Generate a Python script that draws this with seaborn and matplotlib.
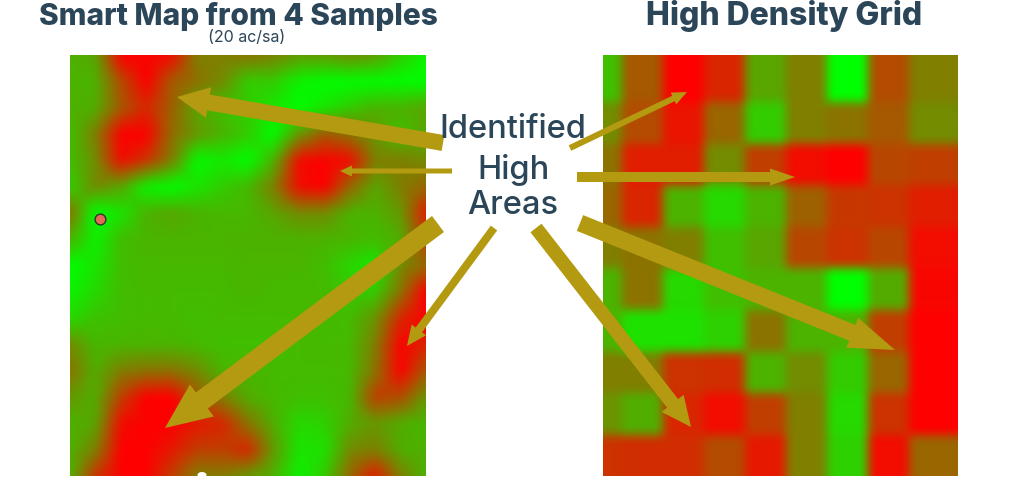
"""Smart map from four samples next to a high density grid, with the high areas marked."""

import numpy as np
import pandas as pd
import matplotlib
matplotlib.use('Agg')
import matplotlib.pyplot as plt
from matplotlib.colors import LinearSegmentedColormap
from matplotlib.patches import FancyArrow, Ellipse
import seaborn as sns

# 0 = green, 1 = red. Values at evenly spaced grid nodes.
SMART_MAP = [
    [.30, .35, 1.0, 1.0, .95, .50, .50, .55, .50, .40, .40, .45, .40, .20, .05],
    [.30, .30, .70, 1.0, .65, .55, .45, .20, .20, .05, .00, .00, .00, .00, .00],
    [.30, .32, .65, .85, .62, .35, .25, .20, .10, .00, .10, .20, .30, .30, .35],
    [.25, .50, 1.0, 1.0, .58, .40, .30, .20, .00, .40, .65, .55, .40, .25, .35],
    [.25, .45, .95, .80, .50, .02, .08, .00, .30, .95, 1.0, .95, .50, .50, .45],
    [.20, .45, .35, .05, .00, .10, .20, .28, .50, .95, 1.0, .60, .35, .50, .60],
    [.55, .00, .10, .30, .35, .30, .28, .28, .35, .45, .45, .30, .30, .40, .90],
    [.30, .05, .26, .29, .29, .29, .29, .30, .30, .30, .30, .29, .26, .32, .75],
    [.00, .10, .26, .28, .28, .28, .28, .29, .29, .29, .26, .16, .08, .45, .60],
    [.05, .15, .26, .27, .27, .27, .27, .29, .27, .27, .27, .22, .20, .55, 1.0],
    [.15, .24, .26, .27, .27, .25, .27, .27, .27, .27, .27, .26, .42, .85, 1.0],
    [.45, .28, .29, .29, .29, .27, .25, .25, .25, .27, .27, .27, .50, 1.0, .85],
    [.55, .32, .50, .55, .55, .45, .29, .29, .27, .27, .27, .27, .55, 1.0, .65],
    [.40, .32, .75, 1.0, 1.0, .65, .50, .32, .27, .25, .25, .28, .75, .70, .40],
    [.30, .35, .95, 1.0, 1.0, .90, .85, .55, .32, .15, .18, .32, .40, .32, .28],
    [.30, .50, 1.0, 1.0, .90, .75, .75, .85, .40, .10, .12, .45, .50, .32, .30],
    [.30, .80, 1.0, 1.0, .75, .50, .50, .40, .30, .05, .20, .60, .90, .50, .30],
]

# The first row and the last column are partly cropped in the source, see the limits below.
DENSE_GRID = [
    [.25, .65, 1.0, .85, .35, .50, .00, .70, .50, .50],
    [.25, .65, 1.0, .85, .35, .50, .00, .70, .50, .50],
    [.45, .70, .92, .60, .20, .50, .55, .65, .45, .45],
    [.55, .88, .88, .45, .75, .95, 1.0, .72, .75, .75],
    [.60, .85, .30, .15, .30, .62, .78, .80, .88, .88],
    [.50, .55, .50, .25, .35, .72, .80, .72, .95, .95],
    [.30, .55, .15, .25, .30, .30, .00, .33, .97, .97],
    [.30, .12, .12, .18, .55, .30, .30, .75, 1.0, 1.0],
    [.50, .50, .80, .82, .30, .45, .20, .60, 1.0, 1.0],
    [.42, .32, .85, .95, .75, .50, .15, .80, 1.0, 1.0],
    [.80, .82, .82, .70, .90, .50, .18, .95, .60, .60],
]

# tail x, tail y, tip x, tip y, shaft width, head width, head length (pixels)
ARROWS = [
    (443, 143, 177, 97, 16, 31, 32),
    (452, 171, 340, 171, 5, 11, 12),
    (438, 224, 165, 428, 20, 40, 46),
    (494, 228, 407, 346, 8, 18, 20),
    (570, 148, 687, 92, 6, 13, 15),
    (577, 177, 795, 177, 10, 17, 25),
    (580, 223, 895, 350, 17, 32, 46),
    (536, 228, 691, 427, 14, 28, 30),
]

SAMPLE_POINT = (100, 219)

TEXT_COLOR = '#2b4559'
ARROW_COLOR = '#b39a10'
WIDTH, HEIGHT = 1024, 484


def make_blur(radius):
    """Build an agg filter that softens edges, padding so the outer edge stays solid."""
    def blur(image, dpi):
        kernel = np.ones(2 * radius + 1) / (2 * radius + 1)
        pad = radius * 2
        out = np.pad(image, ((pad, pad), (pad, pad), (0, 0)), mode='edge')
        for _ in range(2):
            for axis in (0, 1):
                out = np.apply_along_axis(np.convolve, axis, out, kernel, mode='same')
        return out[pad:-pad, pad:-pad], 0, 0
    return blur


def pixel_axes(fig, left, top, right, bottom):
    """Axes placed by pixel edges, measured from the top left of the figure."""
    return fig.add_axes([left / WIDTH, 1 - bottom / HEIGHT,
                         (right - left) / WIDTH, (bottom - top) / HEIGHT])


sns.set_theme(style='white')
plt.rcParams['font.family'] = ['Inter', 'DejaVu Sans']

cmap = LinearSegmentedColormap.from_list('green_red', ['#00ff00', '#ff0000'])
fig = plt.figure(figsize=(WIDTH / 100, HEIGHT / 100), dpi=100, facecolor='white')

# Left map: values sit on the mesh nodes and get shaded smoothly between them.
smart = pd.DataFrame(SMART_MAP)
ax_left = pixel_axes(fig, 70, 55, 426, 476)
sns.heatmap(smart, ax=ax_left, cmap=cmap, vmin=0, vmax=1, cbar=False,
            xticklabels=False, yticklabels=False, shading='gouraud')
ax_left.set_xlim(0, smart.shape[1] - 1)
ax_left.set_ylim(smart.shape[0] - 1, 0)
ax_left.collections[0].set_agg_filter(make_blur(4))

# Right map: plain cells, blurred a little like the source image.
dense = pd.DataFrame(DENSE_GRID)
ax_right = pixel_axes(fig, 603, 55, 958, 476)
sns.heatmap(dense, ax=ax_right, cmap=cmap, vmin=0, vmax=1, cbar=False,
            xticklabels=False, yticklabels=False)
ax_right.set_xlim(0.54, 9.2)
ax_right.set_ylim(10.99, 0.87)
ax_right.collections[0].set_agg_filter(make_blur(5))

# Overlay in figure pixels for the arrows and labels.
overlay = fig.add_axes([0, 0, 1, 1])
overlay.set_xlim(0, WIDTH)
overlay.set_ylim(HEIGHT, 0)
overlay.axis('off')

overlay.add_patch(Ellipse((202, 475), 9, 6, facecolor='white', edgecolor='none'))
overlay.scatter(*SAMPLE_POINT, s=60, color='#e46a55', edgecolor='#333333', linewidth=1, zorder=3)

for x0, y0, x1, y1, shaft, head_w, head_l in ARROWS:
    overlay.add_patch(FancyArrow(x0, y0, x1 - x0, y1 - y0, width=shaft, head_width=head_w,
                                 head_length=head_l, length_includes_head=True,
                                 color=ARROW_COLOR, linewidth=0, zorder=4))

overlay.text(238, 16, 'Smart Map from 4 Samples', fontsize=21.5, fontweight=800,
             color=TEXT_COLOR, ha='center', va='center')
overlay.text(247, 37, '(20 ac/sa)', fontsize=11.5, color=TEXT_COLOR, ha='center', va='center')
overlay.text(784, 16, 'High Density Grid', fontsize=23, fontweight=800,
             color=TEXT_COLOR, ha='center', va='center')
overlay.text(513, 129, 'Identified', fontsize=23.5, fontweight=500, color=TEXT_COLOR,
             ha='center', va='center', zorder=5)
overlay.text(513, 170, 'High', fontsize=23.5, fontweight=500, color=TEXT_COLOR,
             ha='center', va='center', zorder=5)
overlay.text(513, 206, 'Areas', fontsize=23.5, fontweight=500, color=TEXT_COLOR,
             ha='center', va='center', zorder=5)

fig.savefig('out.png', dpi=100)
plt.close(fig)
